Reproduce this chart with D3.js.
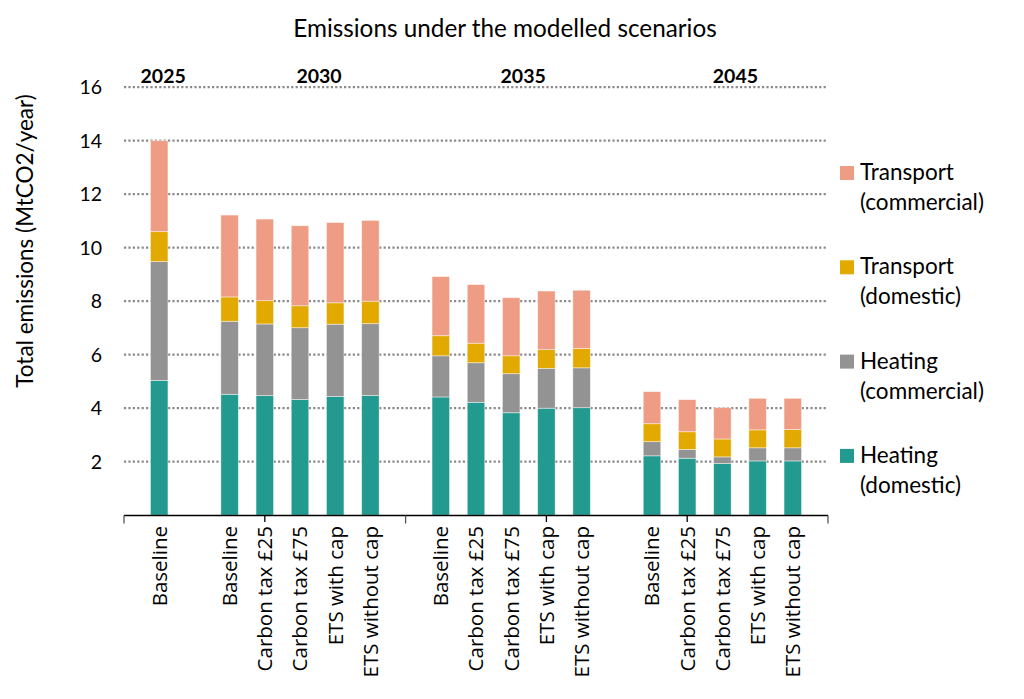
<!DOCTYPE html>
<html>
<head>
<meta charset="utf-8">
<script src="https://cdn.jsdelivr.net/npm/d3@7"></script>
<style>
  body { margin: 0; background: #fff; }
  svg { display: block; }
  .calib { font-family: Lato, 'Open Sans', sans-serif; fill: #000; }
  .cat { font-family: 'Open Sans', 'DejaVu Sans', sans-serif; fill: #000; }
</style>
</head>
<body>
<svg id="chart"></svg>
<script>
// values, MtCO2/year
const years = ['2025', '2030', '2035', '2045'];
const scenarios = ['Baseline', 'Carbon tax £25', 'Carbon tax £75', 'ETS with cap', 'ETS without cap'];
const barYears = ['2025', '2030', '2030', '2030', '2030', '2030', '2035', '2035', '2035', '2035', '2035', '2045', '2045', '2045', '2045', '2045'];
const barScenarios = ['Baseline'].concat(scenarios, scenarios, scenarios);

const heatingDomestic = [5.04, 4.52, 4.47, 4.33, 4.44, 4.48, 4.42, 4.22, 3.83, 4.0, 4.02, 2.22, 2.13, 1.93, 2.03, 2.03];
const heatingCommercial = [4.44, 2.73, 2.68, 2.68, 2.7, 2.68, 1.54, 1.48, 1.46, 1.49, 1.49, 0.53, 0.33, 0.25, 0.49, 0.49];
const transportDomestic = [1.12, 0.91, 0.87, 0.82, 0.8, 0.84, 0.75, 0.73, 0.67, 0.7, 0.72, 0.67, 0.66, 0.67, 0.67, 0.68];
const transportCommercial = [3.4, 3.06, 3.05, 2.99, 3.0, 3.02, 2.21, 2.19, 2.17, 2.19, 2.18, 1.2, 1.2, 1.17, 1.18, 1.17];

const seriesKeys = ['heatingDomestic', 'heatingCommercial', 'transportDomestic', 'transportCommercial'];
const seriesNames = [['Heating', '(domestic)'], ['Heating', '(commercial)'], ['Transport', '(domestic)'], ['Transport', '(commercial)']];
const seriesColors = ['#239a90', '#939393', '#e2a900', '#ef9c84'];
const yTicks = [2, 4, 6, 8, 10, 12, 14, 16];

const width = 1024, height = 699;
const svg = d3.select('#chart').attr('width', width).attr('height', height);

// slots along the category axis, with blank slots between the years
let slots = ['gap0'];
years.forEach((yr, i) => {
  barYears.forEach((by, j) => { if (by === yr) slots.push(by + '|' + barScenarios[j]); });
  slots.push(i < years.length - 1 ? 'gap' + (i + 1) : 'end');
});

const x = d3.scalePoint().domain(slots).range([124, 828]);
const y = d3.scaleLinear().domain([0, 16]).range([515.2, 87.2]);

const table = barYears.map((yr, i) => ({
  key: yr + '|' + barScenarios[i],
  scenario: barScenarios[i],
  heatingDomestic: heatingDomestic[i],
  heatingCommercial: heatingCommercial[i],
  transportDomestic: transportDomestic[i],
  transportCommercial: transportCommercial[i]
}));
const stacked = d3.stack().keys(seriesKeys)(table);

// title
svg.append('text')
  .attr('class', 'calib')
  .attr('x', 505).attr('y', 37)
  .attr('text-anchor', 'middle')
  .style('font-size', '24.3px')
  .text('Emissions under the modelled scenarios');

// gridlines
svg.append('g')
  .selectAll('line')
  .data(yTicks)
  .enter().append('line')
  .attr('x1', 124).attr('x2', 828)
  .attr('y1', d => y(d)).attr('y2', d => y(d))
  .attr('stroke', '#8a8a8a')
  .attr('stroke-width', 2.2)
  .attr('stroke-dasharray', '2.2,2.2');

// y tick labels
svg.append('g')
  .selectAll('text')
  .data(yTicks)
  .enter().append('text')
  .attr('class', 'calib')
  .attr('x', 102).attr('y', d => y(d))
  .attr('dy', '0.36em')
  .attr('text-anchor', 'end')
  .style('font-size', '19.5px')
  .text(d => d);

svg.append('text')
  .attr('class', 'calib')
  .attr('transform', 'translate(33,241) rotate(-90)')
  .attr('text-anchor', 'middle')
  .style('font-size', '22.5px')
  .text('Total emissions (MtCO2/year)');

// bars
const bw = 17.5;
svg.append('g')
  .selectAll('g')
  .data(stacked)
  .enter().append('g')
  .attr('fill', (d, i) => seriesColors[i])
  .selectAll('rect')
  .data(d => d)
  .enter().append('rect')
  .attr('x', d => x(d.data.key) - bw / 2)
  .attr('width', bw)
  .attr('y', d => y(d[1]))
  .attr('height', d => y(d[0]) - y(d[1]))
  .attr('stroke', 'rgba(255,255,255,0.55)')
  .attr('stroke-width', 0.8);

// category axis
const axis = svg.append('g');
axis.append('line')
  .attr('x1', 124).attr('x2', 828)
  .attr('y1', 515.5).attr('y2', 515.5)
  .attr('stroke', '#000').attr('stroke-width', 1.3);

const tickKeys = ['gap0', 'gap2', 'end', '2030|Carbon tax £25', '2035|ETS with cap', '2045|Carbon tax £25'];
axis.selectAll('.tick')
  .data(tickKeys)
  .enter().append('line')
  .attr('x1', d => x(d)).attr('x2', d => x(d))
  .attr('y1', 515.5).attr('y2', (d, i) => i < 3 ? 523.5 : 522)
  .attr('stroke', (d, i) => i < 3 ? '#555' : '#000').attr('stroke-width', 1.3);

axis.selectAll('.cat')
  .data(table)
  .enter().append('text')
  .attr('class', 'cat')
  .attr('transform', d => 'translate(' + x(d.key) + ',526) rotate(-90)')
  .attr('text-anchor', 'end')
  .attr('dy', '0.36em')
  .style('font-size', '20.5px')
  .text(d => d.scenario);

// year labels above the groups
const yearAnchors = ['2025|Baseline', '2030|Carbon tax £75', '2035|Carbon tax £75', '2045|Carbon tax £75'];
const yearShift = [4, 19, 12, 13];
svg.append('g')
  .selectAll('text')
  .data(years)
  .enter().append('text')
  .attr('class', 'calib')
  .attr('x', (d, i) => x(yearAnchors[i]) + yearShift[i])
  .attr('y', 82.5)
  .attr('text-anchor', 'middle')
  .style('font-size', '19.5px')
  .style('font-weight', 'bold')
  .text(d => d);

// legend, top entry is the top of the stack
const legend = svg.append('g')
  .selectAll('g')
  .data(d3.range(seriesKeys.length).reverse())
  .enter().append('g')
  .attr('transform', (d, i) => 'translate(840,' + (180 + i * 94.3) + ')');
legend.append('rect')
  .attr('x', 0).attr('y', -14)
  .attr('width', 14).attr('height', 14)
  .attr('fill', d => seriesColors[d]);
legend.append('text')
  .attr('class', 'calib')
  .attr('x', 20).attr('y', 0)
  .style('font-size', '22.5px')
  .text(d => seriesNames[d][0]);
legend.append('text')
  .attr('class', 'calib')
  .attr('x', 20).attr('y', 30)
  .style('font-size', '22.5px')
  .text(d => seriesNames[d][1]);
</script>
</body>
</html>
